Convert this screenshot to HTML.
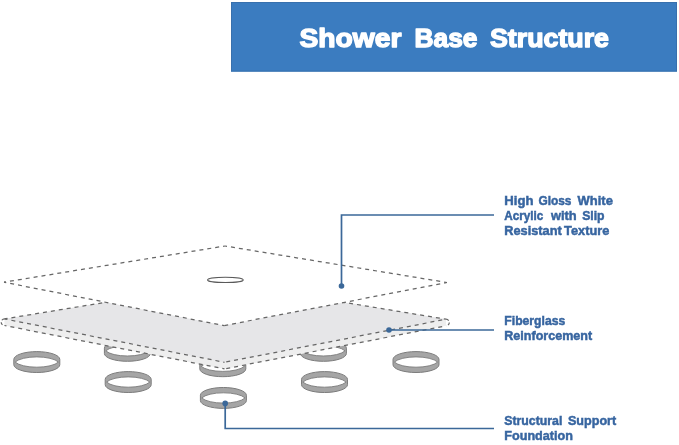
<!DOCTYPE html>
<html><head><meta charset="utf-8"><style>
html,body{margin:0;padding:0;background:#fff;width:679px;height:445px;overflow:hidden;font-family:"Liberation Sans",sans-serif;}
svg{display:block;will-change:transform}
</style></head><body>
<svg width="679" height="445" viewBox="0 0 679 445">
<rect x="231" y="2" width="446" height="69.6" fill="#3b7cc0"/>
<rect x="231.5" y="2.5" width="445" height="68.6" fill="none" stroke="#3870ad" stroke-width="1"/>
<text x="299.5" y="46.9" font-family="Liberation Sans" font-weight="bold" font-size="26.5" fill="#fff" stroke="#fff" stroke-width="1.4" stroke-linejoin="round" textLength="102" lengthAdjust="spacingAndGlyphs">Shower</text>
<text x="414.5" y="46.9" font-family="Liberation Sans" font-weight="bold" font-size="26.5" fill="#fff" stroke="#fff" stroke-width="1.4" stroke-linejoin="round" textLength="63" lengthAdjust="spacingAndGlyphs">Base</text>
<text x="490" y="46.9" font-family="Liberation Sans" font-weight="bold" font-size="26.5" fill="#fff" stroke="#fff" stroke-width="1.4" stroke-linejoin="round" textLength="119" lengthAdjust="spacingAndGlyphs">Structure</text>
<path d="M104.40,348.20 A23,7.8 0 0 1 150.40,348.20 L150.40,353.50 A23,7.8 0 0 1 104.40,353.50 Z" fill="#a5a5a5" stroke="#7c7c7c" stroke-width="1"/><path d="M105.77,350.85 A23,7.8 0 0 1 149.03,350.85 A23,7.8 0 0 1 105.77,350.85 Z" fill="#fff" stroke="#7c7c7c" stroke-width="0.9"/>
<path d="M199.80,363.60 A23,7.8 0 0 1 245.80,363.60 L245.80,368.90 A23,7.8 0 0 1 199.80,368.90 Z" fill="#a5a5a5" stroke="#7c7c7c" stroke-width="1"/><path d="M201.17,366.25 A23,7.8 0 0 1 244.43,366.25 A23,7.8 0 0 1 201.17,366.25 Z" fill="#fff" stroke="#7c7c7c" stroke-width="0.9"/>
<path d="M300.40,348.20 A23,7.8 0 0 1 346.40,348.20 L346.40,353.50 A23,7.8 0 0 1 300.40,353.50 Z" fill="#a5a5a5" stroke="#7c7c7c" stroke-width="1"/><path d="M301.77,350.85 A23,7.8 0 0 1 345.03,350.85 A23,7.8 0 0 1 301.77,350.85 Z" fill="#fff" stroke="#7c7c7c" stroke-width="0.9"/>
<path d="M4.5,318.9 L225,282.7 L446,319.2 L446,325.8 L224.5,368.90000000000003 L4.5,325.5 Z" fill="#eeeeee"/>
<polygon points="4.50,318.90 225.00,282.70 446.00,319.20 224.50,362.30" fill="#e6e6e8"/>
<polyline points="4.50,318.90 225.00,282.70" fill="none" stroke="#666666" stroke-width="1.25" stroke-dasharray="4 4" stroke-dashoffset="1"/>
<polyline points="225.00,282.70 446.00,319.20" fill="none" stroke="#666666" stroke-width="1.25" stroke-dasharray="4 4" stroke-dashoffset="2.25"/>
<polyline points="4.50,318.90 224.50,362.30" fill="none" stroke="#666666" stroke-width="1.25" stroke-dasharray="4 4" stroke-dashoffset="1"/>
<polyline points="224.50,362.30 446.00,319.20" fill="none" stroke="#666666" stroke-width="1.25" stroke-dasharray="4 4" stroke-dashoffset="6.24"/>
<polyline points="4.50,325.50 224.50,368.90" fill="none" stroke="#666666" stroke-width="1.25" stroke-dasharray="4 4" stroke-dashoffset="2"/>
<polyline points="224.50,368.90 446.00,325.80" fill="none" stroke="#666666" stroke-width="1.25" stroke-dasharray="4 4" stroke-dashoffset="6.24"/>
<path d="M4.5,318.9 A3,3 0 0 0 4.5,325.5" fill="none" stroke="#666666" stroke-width="1.2" stroke-dasharray="3 2"/>
<path d="M446,319.2 A3,3 0 0 1 446,325.8" fill="none" stroke="#666666" stroke-width="1.2" stroke-dasharray="3 2"/>
<polygon points="4.00,282.20 225.00,246.00 447.00,282.50 224.00,325.60" fill="#fff"/>
<polyline points="4.00,282.20 225.00,246.00" fill="none" stroke="#666666" stroke-width="1.25" stroke-dasharray="4 4" stroke-dashoffset="2.00"/>
<polyline points="225.00,246.00 447.00,282.50" fill="none" stroke="#666666" stroke-width="1.25" stroke-dasharray="4 4" stroke-dashoffset="1.95"/>
<polyline points="447.00,282.50 224.00,325.60" fill="none" stroke="#666666" stroke-width="1.25" stroke-dasharray="4 4" stroke-dashoffset="1.08"/>
<polyline points="224.00,325.60 4.00,282.20" fill="none" stroke="#666666" stroke-width="1.25" stroke-dasharray="4 4" stroke-dashoffset="2.05"/>
<ellipse cx="225.4" cy="279.9" rx="17.8" ry="2.6" fill="none" stroke="#5a5a5a" stroke-width="1.1"/>
<path d="M13.80,359.40 A23,7.8 0 0 1 59.80,359.40 L59.80,364.70 A23,7.8 0 0 1 13.80,364.70 Z" fill="#a5a5a5" stroke="#7c7c7c" stroke-width="1"/><path d="M15.17,362.05 A23,7.8 0 0 1 58.43,362.05 A23,7.8 0 0 1 15.17,362.05 Z" fill="#fff" stroke="#7c7c7c" stroke-width="0.9"/>
<path d="M105.20,379.40 A23,7.8 0 0 1 151.20,379.40 L151.20,384.70 A23,7.8 0 0 1 105.20,384.70 Z" fill="#a5a5a5" stroke="#7c7c7c" stroke-width="1"/><path d="M106.57,382.05 A23,7.8 0 0 1 149.83,382.05 A23,7.8 0 0 1 106.57,382.05 Z" fill="#fff" stroke="#7c7c7c" stroke-width="0.9"/>
<path d="M200.40,395.30 A23,7.8 0 0 1 246.40,395.30 L246.40,400.60 A23,7.8 0 0 1 200.40,400.60 Z" fill="#a5a5a5" stroke="#7c7c7c" stroke-width="1"/><path d="M201.77,397.95 A23,7.8 0 0 1 245.03,397.95 A23,7.8 0 0 1 201.77,397.95 Z" fill="#fff" stroke="#7c7c7c" stroke-width="0.9"/>
<path d="M301.50,379.40 A23,7.8 0 0 1 347.50,379.40 L347.50,384.70 A23,7.8 0 0 1 301.50,384.70 Z" fill="#a5a5a5" stroke="#7c7c7c" stroke-width="1"/><path d="M302.87,382.05 A23,7.8 0 0 1 346.13,382.05 A23,7.8 0 0 1 302.87,382.05 Z" fill="#fff" stroke="#7c7c7c" stroke-width="0.9"/>
<path d="M393.00,359.40 A23,7.8 0 0 1 439.00,359.40 L439.00,364.70 A23,7.8 0 0 1 393.00,364.70 Z" fill="#a5a5a5" stroke="#7c7c7c" stroke-width="1"/><path d="M394.37,362.05 A23,7.8 0 0 1 437.63,362.05 A23,7.8 0 0 1 394.37,362.05 Z" fill="#fff" stroke="#7c7c7c" stroke-width="0.9"/>
<polyline points="341.5,286 341.5,215 494,215" fill="none" stroke="#3b6899" stroke-width="1.7"/>
<circle cx="341.5" cy="286" r="2.8" fill="#3b6899"/>
<polyline points="389,330 494,330" fill="none" stroke="#3b6899" stroke-width="1.7"/>
<circle cx="389" cy="330" r="2.8" fill="#3b6899"/>
<polyline points="225.2,403.4 225.2,428.5 494,428.5" fill="none" stroke="#3b6899" stroke-width="1.7"/>
<circle cx="225.2" cy="403.4" r="2.8" fill="#3b6899"/>
<text x="504.3" y="204.6" font-family="Liberation Sans" font-weight="bold" font-size="13.3" fill="#3765a0" stroke="#3765a0" stroke-width="0.5" textLength="29.1" lengthAdjust="spacingAndGlyphs">High</text>
<text x="538.4" y="204.6" font-family="Liberation Sans" font-weight="bold" font-size="13.3" fill="#3765a0" stroke="#3765a0" stroke-width="0.5" textLength="33.1" lengthAdjust="spacingAndGlyphs">Gloss</text>
<text x="577.6" y="204.6" font-family="Liberation Sans" font-weight="bold" font-size="13.3" fill="#3765a0" stroke="#3765a0" stroke-width="0.5" textLength="35.3" lengthAdjust="spacingAndGlyphs">White</text>
<text x="504.3" y="219.9" font-family="Liberation Sans" font-weight="bold" font-size="13.3" fill="#3765a0" stroke="#3765a0" stroke-width="0.5" textLength="39.1" lengthAdjust="spacingAndGlyphs">Acrylic</text>
<text x="551.0" y="219.9" font-family="Liberation Sans" font-weight="bold" font-size="13.3" fill="#3765a0" stroke="#3765a0" stroke-width="0.5" textLength="25.7" lengthAdjust="spacingAndGlyphs">with</text>
<text x="582.2" y="219.9" font-family="Liberation Sans" font-weight="bold" font-size="13.3" fill="#3765a0" stroke="#3765a0" stroke-width="0.5" textLength="22.4" lengthAdjust="spacingAndGlyphs">Slip</text>
<text x="504.3" y="234.9" font-family="Liberation Sans" font-weight="bold" font-size="13.3" fill="#3765a0" stroke="#3765a0" stroke-width="0.5" textLength="57.4" lengthAdjust="spacingAndGlyphs">Resistant</text>
<text x="564.1" y="234.9" font-family="Liberation Sans" font-weight="bold" font-size="13.3" fill="#3765a0" stroke="#3765a0" stroke-width="0.5" textLength="45.2" lengthAdjust="spacingAndGlyphs">Texture</text>
<text x="504.3" y="324.7" font-family="Liberation Sans" font-weight="bold" font-size="13.3" fill="#3765a0" stroke="#3765a0" stroke-width="0.5" textLength="61.0" lengthAdjust="spacingAndGlyphs">Fiberglass</text>
<text x="504.3" y="340.4" font-family="Liberation Sans" font-weight="bold" font-size="13.3" fill="#3765a0" stroke="#3765a0" stroke-width="0.5" textLength="87.8" lengthAdjust="spacingAndGlyphs">Reinforcement</text>
<text x="504.3" y="425.0" font-family="Liberation Sans" font-weight="bold" font-size="13.3" fill="#3765a0" stroke="#3765a0" stroke-width="0.5" textLength="58.0" lengthAdjust="spacingAndGlyphs">Structural</text>
<text x="567.9" y="425.0" font-family="Liberation Sans" font-weight="bold" font-size="13.3" fill="#3765a0" stroke="#3765a0" stroke-width="0.5" textLength="48.3" lengthAdjust="spacingAndGlyphs">Support</text>
<text x="504.3" y="440.3" font-family="Liberation Sans" font-weight="bold" font-size="13.3" fill="#3765a0" stroke="#3765a0" stroke-width="0.5" textLength="68.6" lengthAdjust="spacingAndGlyphs">Foundation</text>
</svg>
</body></html>
